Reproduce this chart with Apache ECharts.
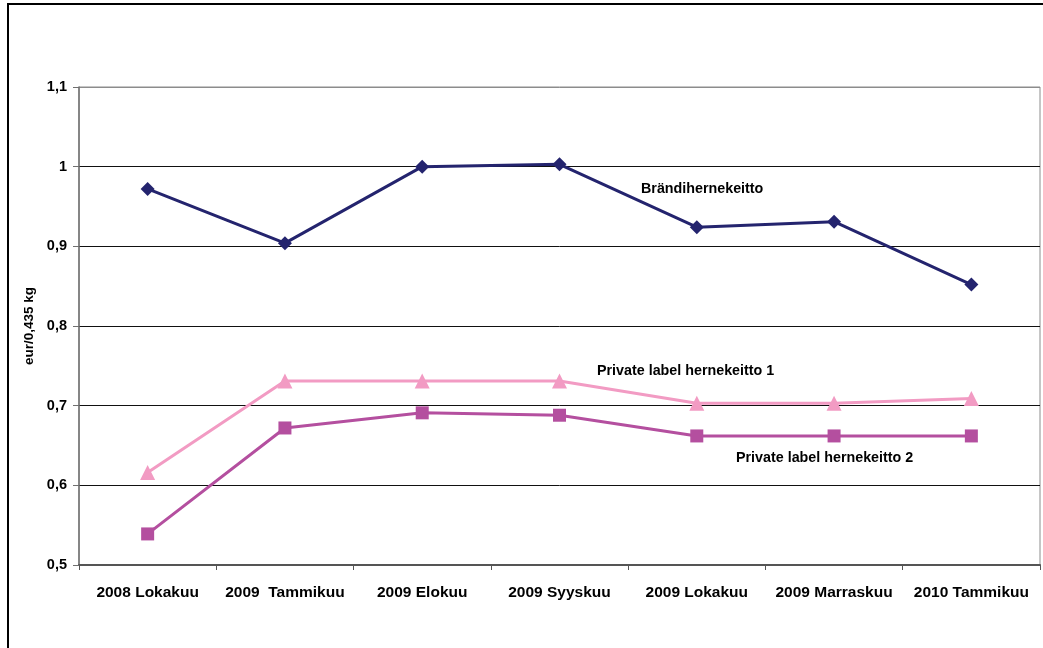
<!DOCTYPE html>
<html>
<head>
<meta charset="utf-8">
<style>
  html, body { margin: 0; padding: 0; background: #fff; }
  #chart { width: 1043px; height: 648px; }
</style>
<script src="https://cdn.jsdelivr.net/npm/echarts@6/dist/echarts.min.js"></script>
</head>
<body>
<div id="chart"></div>
<script>
// Pea soup prices, eur per 0,435 kg can
const categories = ['2008 Lokakuu', '2009  Tammikuu', '2009 Elokuu', '2009 Syyskuu', '2009 Lokakuu', '2009 Marraskuu', '2010 Tammikuu'];
const brandi = [0.972, 0.904, 1.0, 1.003, 0.924, 0.931, 0.852];
const private1 = [0.616, 0.731, 0.731, 0.731, 0.703, 0.703, 0.709];
const private2 = [0.539, 0.672, 0.691, 0.688, 0.662, 0.662, 0.662];
const seriesNames = ['Brändihernekeitto', 'Private label hernekeitto 1', 'Private label hernekeitto 2'];

const FONT = '"Liberation Sans", Arial, sans-serif';
const chart = echarts.init(document.getElementById('chart'));

function lineSeries(name, data, color, symbol, size) {
  return {
    name: name,
    type: 'line',
    data: data,
    symbol: symbol,
    symbolSize: size,
    showAllSymbol: true,
    lineStyle: { color: color, width: 3 },
    itemStyle: { color: color },
    emphasis: { disabled: true },
    animation: false,
    z: 3
  };
}

chart.setOption({
  backgroundColor: '#fff',
  animation: false,
  grid: {
    left: 79, right: 3, top: 87, bottom: 83,
    outerBoundsMode: 'none',
    show: true, borderColor: '#8c8c8c', borderWidth: 1
  },
  xAxis: {
    type: 'category',
    data: categories,
    boundaryGap: true,
    axisLine: { lineStyle: { color: '#555', width: 2 } },
    axisTick: { show: true, length: 5, lineStyle: { color: '#555' } },
    axisLabel: {
      color: '#000', fontFamily: FONT, fontWeight: 'bold', fontSize: 15.5,
      margin: 20, interval: 0
    },
    splitLine: { show: false }
  },
  yAxis: {
    type: 'value',
    min: 0.5, max: 1.1, interval: 0.1,
    name: 'eur/0,435 kg',
    nameLocation: 'middle',
    nameGap: 41,
    nameRotate: 90,
    nameTextStyle: { color: '#000', fontFamily: FONT, fontWeight: 'bold', fontSize: 13.5 },
    axisLine: { show: true, lineStyle: { color: '#707070', width: 1.5 } },
    axisTick: { show: true, length: 6, lineStyle: { color: '#707070' } },
    axisLabel: {
      color: '#000', fontFamily: FONT, fontWeight: 'bold', fontSize: 14.5, margin: 12,
      formatter: v => String(Math.round(v * 10) / 10).replace('.', ',')
    },
    splitLine: {
      show: true,
      lineStyle: { color: ['#555', '#111', '#111', '#111', '#111', '#111', '#8c8c8c'], width: 1 }
    }
  },
  series: [
    lineSeries(seriesNames[0], brandi, '#24246e', 'diamond', 14),
    lineSeries(seriesNames[1], private1, '#f29bc3', 'triangle', 15),
    lineSeries(seriesNames[2], private2, '#b44f9f', 'rect', 13)
  ],
  graphic: [
    {
      type: 'rect', silent: true, z: 10,
      shape: { x: 8, y: 4, width: 1100, height: 1000 },
      style: { fill: 'none', stroke: '#000', lineWidth: 2 }
    },
    {
      type: 'text', left: 641, top: 182, silent: true,
      style: { text: seriesNames[0], fill: '#000', font: 'bold 14.3px ' + FONT }
    },
    {
      type: 'text', left: 597, top: 364, silent: true,
      style: { text: seriesNames[1], fill: '#000', font: 'bold 14.3px ' + FONT }
    },
    {
      type: 'text', left: 736, top: 451, silent: true,
      style: { text: seriesNames[2], fill: '#000', font: 'bold 14.3px ' + FONT }
    }
  ]
});
</script>
</body>
</html>
